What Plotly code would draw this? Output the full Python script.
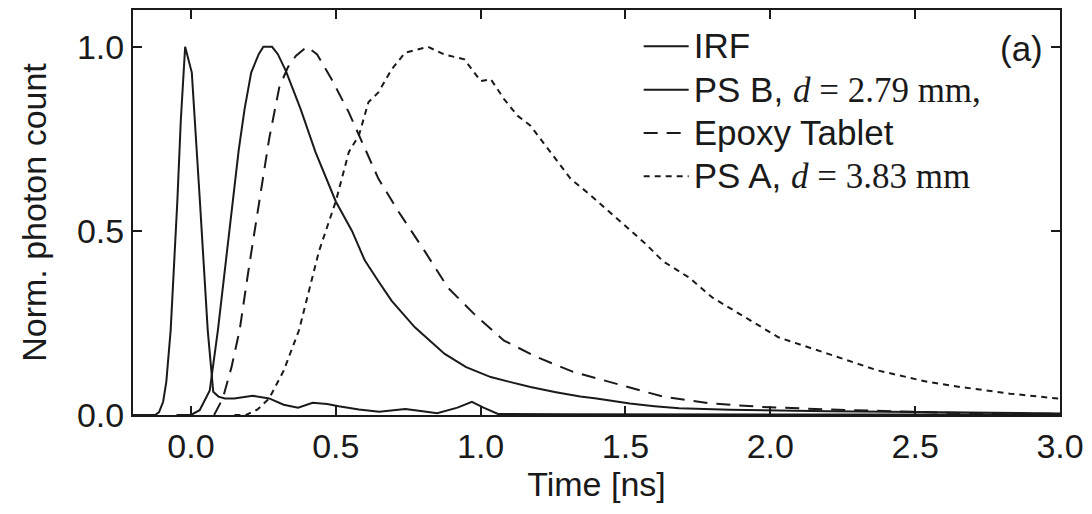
import plotly.graph_objects as go

# Time-resolved photon counts (normalised), time in ns
irf_t = [-0.2, -0.15, -0.123, -0.11, -0.096, -0.085, -0.07, -0.047, -0.035, -0.02,
         0.003, 0.031, 0.058, 0.077, 0.095, 0.117, 0.15, 0.213, 0.27, 0.32, 0.37,
         0.42, 0.47, 0.51, 0.58, 0.65, 0.74, 0.80, 0.85, 0.92, 0.97, 1.01, 1.06,
         1.3, 1.6, 2.0, 2.5, 3.0]
irf_v = [0.0, 0.0, 0.0, 0.008, 0.036, 0.09, 0.23, 0.58, 0.80, 1.0,
         0.93, 0.58, 0.23, 0.063, 0.05, 0.045, 0.045, 0.052, 0.045, 0.028, 0.02,
         0.033, 0.03, 0.024, 0.015, 0.009, 0.016, 0.01, 0.005, 0.02, 0.036, 0.02, 0.003,
         0.002, 0.002, 0.002, 0.001, 0.001]

psb_t = [-0.05, 0.0, 0.03, 0.065, 0.093, 0.12, 0.144, 0.165, 0.185, 0.208, 0.234,
         0.25, 0.28, 0.30, 0.328, 0.35, 0.379, 0.43, 0.50, 0.556, 0.60, 0.65, 0.693,
         0.773, 0.876, 0.95, 1.035, 1.10, 1.172, 1.26, 1.344, 1.40, 1.47, 1.515, 1.60,
         1.685, 1.86, 2.0, 2.2, 2.5, 2.8, 3.0]
psb_v = [0.0, 0.0, 0.013, 0.067, 0.23, 0.42, 0.58, 0.72, 0.83, 0.93, 0.98,
         1.0, 1.0, 0.98, 0.934, 0.89, 0.83, 0.714, 0.58, 0.50, 0.42, 0.36, 0.31,
         0.238, 0.166, 0.13, 0.103, 0.09, 0.076, 0.062, 0.05, 0.045, 0.036, 0.031, 0.024,
         0.018, 0.014, 0.012, 0.01, 0.008, 0.005, 0.004]

epoxy_t = [0.08, 0.093, 0.11, 0.14, 0.168, 0.2, 0.236, 0.27, 0.305, 0.335, 0.362,
           0.40, 0.435, 0.487, 0.545, 0.58, 0.647, 0.716, 0.807, 0.887, 0.978, 1.081,
           1.195, 1.32, 1.424, 1.515, 1.629, 1.80, 1.97, 2.2, 2.43, 2.66, 3.0]
epoxy_v = [0.0, 0.02, 0.045, 0.13, 0.23, 0.40, 0.58, 0.75, 0.89, 0.945, 0.975,
           1.0, 0.98, 0.91, 0.822, 0.76, 0.642, 0.553, 0.445, 0.346, 0.274, 0.202,
           0.157, 0.117, 0.095, 0.076, 0.05, 0.031, 0.022, 0.015, 0.009, 0.005, 0.003]

psa_t = [0.15, 0.19, 0.23, 0.27, 0.32, 0.373, 0.442, 0.50, 0.545, 0.58, 0.613,
         0.647, 0.693, 0.739, 0.818, 0.876, 0.944, 1.0, 1.035, 1.081, 1.127, 1.172,
         1.241, 1.31, 1.378, 1.469, 1.572, 1.629, 1.72, 1.80, 1.914, 2.028, 2.20,
         2.371, 2.542, 2.657, 2.828, 2.976, 3.0]
psa_v = [0.0, 0.0, 0.015, 0.045, 0.12, 0.23, 0.445, 0.58, 0.714, 0.76, 0.85,
         0.876, 0.939, 0.984, 1.0, 0.979, 0.966, 0.907, 0.912, 0.858, 0.813, 0.786,
         0.714, 0.642, 0.598, 0.535, 0.463, 0.418, 0.373, 0.319, 0.265, 0.211, 0.166,
         0.121, 0.09, 0.076, 0.058, 0.045, 0.044]

x_ticks = [0.0, 0.5, 1.0, 1.5, 2.0, 2.5, 3.0]
y_ticks = [0.0, 0.5, 1.0]

SANS = "Liberation Sans"
SERIF = "Liberation Serif"
INK = "#1a1a1a"
LEGEND_TEXT_PX = 35


def math(s):
    return f"<span style=\"font-family:'{SERIF}'\">{s}</span>"


def big(s):
    return f"<span style=\"font-size:{LEGEND_TEXT_PX}px\">{s}</span>"


names = [
    big("IRF"),
    big("PS B, " + math("<i>d</i> = 2.79 mm,")),
    big("Epoxy Tablet"),
    big("PS A, " + math("<i>d</i> = 3.83 mm")),
]

fig = go.Figure()
series = [
    (irf_t, irf_v, "solid"),
    (psb_t, psb_v, "solid"),
    (epoxy_t, epoxy_v, "14px,9px"),
    (psa_t, psa_v, "6px,5px"),
]
for (t, v, dash), name in zip(series, names):
    fig.add_trace(go.Scatter(
        x=t, y=v, mode="lines", name=name,
        line=dict(color=INK, width=2, dash=dash),
    ))

axis_common = dict(
    showgrid=False, zeroline=False, showline=True, linecolor=INK, linewidth=2,
    mirror="ticks", ticks="inside", ticklen=9, tickwidth=1.5, tickcolor=INK,
    tickfont=dict(family=SANS, size=34, color=INK),
    title_font=dict(family=SANS, size=34, color=INK),
)

fig.update_xaxes(range=[-0.2, 3.0], tickvals=x_ticks,
                 ticktext=[f"{v:.1f}" for v in x_ticks],
                 title_text="Time [ns]", title_standoff=8, **axis_common)
fig.update_yaxes(range=[0, 1.1], tickvals=y_ticks,
                 ticktext=[f"{v:.1f}" for v in y_ticks],
                 title_text="Norm. photon count", title_standoff=20, **axis_common)

fig.add_annotation(x=0.984, y=0.905, xref="paper", yref="paper",
                   text="(a)", showarrow=False, xanchor="right", yanchor="middle",
                   font=dict(family=SANS, size=35, color=INK))

fig.update_layout(
    width=1092, height=514,
    margin=dict(l=133, r=27, t=8, b=99),
    paper_bgcolor="white", plot_bgcolor="white",
    showlegend=True,
    legend=dict(x=0.5455, y=0.976, xanchor="left", yanchor="top",
                bgcolor="rgba(0,0,0,0)", borderwidth=0,
                font=dict(family=SANS, size=31, color=INK),
                itemwidth=45),
)

fig.write_html("out.html")
